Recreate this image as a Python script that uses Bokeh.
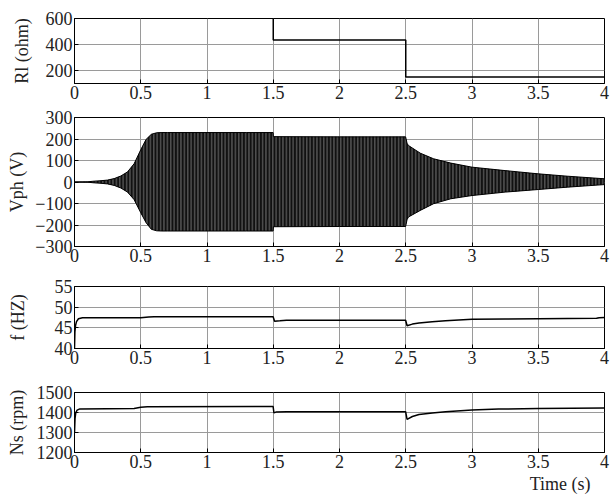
from bokeh.plotting import figure
from bokeh.layouts import column
from bokeh.models import FixedTicker, Range1d, Title
from bokeh.embed import file_html
from bokeh.resources import INLINE

# ---------------- data ----------------
x_ticks = [0, 0.5, 1, 1.5, 2, 2.5, 3, 3.5, 4]
x_tick_labels = ["0", "0.5", "1", "1.5", "2", "2.5", "3", "3.5", "4"]

# Load resistance (ohm); before 1.5 s the load is off-scale (open circuit)
rl_t = [0.0, 1.5, 2.5, 4.0]
rl_v = [2000, 434, 150, 150]
rl_ticks = [200, 400, 600]
rl_tick_labels = ["200", "400", "600"]

# Phase voltage envelope (V)
vph_t = [0.0, 0.10, 0.15, 0.20, 0.25, 0.30, 0.35, 0.40, 0.45, 0.50, 0.54, 0.58,
         0.62, 0.66, 0.70, 1.00, 1.30, 1.499, 1.501, 2.00, 2.499, 2.51, 2.52,
         2.61, 2.71, 2.84, 3.00, 3.25, 3.50, 3.72, 4.00]
vph_upper = [0, 1, 4, 6, 9, 16, 28, 47, 85, 150, 198, 222,
             229, 230, 230, 230, 230, 230, 211, 210, 210, 180, 170,
             134, 108, 88, 69, 53, 38, 27, 15]
vph_lower = [0, -1, -4, -6, -9, -16, -28, -47, -82, -143, -189, -220,
             -227, -228, -228, -228, -228, -228, -208, -207, -207, -175, -163,
             -132, -101, -78, -63, -47, -35, -24, -12]
vph_ticks = [-300, -200, -100, 0, 100, 200, 300]
vph_tick_labels = ["\u2212300", "\u2212200", "\u2212100", "0", "100", "200", "300"]

# Frequency (Hz)
f_t = [0.0, 0.003, 0.008, 0.015, 0.03, 0.06, 0.50, 0.56, 0.60, 1.499, 1.51,
       1.55, 1.60, 2.499, 2.51, 2.55, 2.60, 2.70, 2.80, 3.00, 3.25, 3.50,
       3.94, 3.96, 4.00]
f_v = [40.0, 44.0, 45.6, 46.5, 47.2, 47.45, 47.45, 47.65, 47.7, 47.7, 46.6,
       46.7, 46.85, 46.85, 45.5, 45.9, 46.15, 46.5, 46.7, 47.05, 47.15, 47.2,
       47.3, 47.45, 47.5]
f_ticks = [40, 45, 50, 55]
f_tick_labels = ["40", "45", "50", "55"]

# Speed (rpm)
ns_t = [0.0, 0.004, 0.01, 0.02, 0.04, 0.45, 0.50, 0.55, 1.499, 1.505, 1.52,
        1.60, 2.499, 2.51, 2.55, 2.60, 2.70, 2.80, 3.00, 3.20, 3.50, 4.00]
ns_v = [1300, 1370, 1400, 1412, 1418, 1420, 1426, 1429, 1430, 1398, 1402,
        1404, 1404, 1366, 1380, 1390, 1398, 1404, 1412, 1417, 1420, 1422]
ns_ticks = [1200, 1300, 1400, 1500]
ns_tick_labels = ["1200", "1300", "1400", "1500"]

FONT = "Liberation Serif"
TICK_SIZE = "18px"
LABEL_SIZE = "18px"


def make_fig(height, top, bottom, y_rng, y_ticks, y_labels, ylabel, standoff):
    p = figure(width=610, height=height, x_range=Range1d(0, 4),
               y_range=Range1d(*y_rng), output_backend="svg",
               toolbar_location=None, tools="",
               min_border_left=74, min_border_right=6,
               min_border_top=top, min_border_bottom=bottom)
    p.background_fill_color = "white"
    p.border_fill_color = "white"
    p.outline_line_color = "black"
    p.outline_line_width = 1

    p.xaxis.ticker = FixedTicker(ticks=x_ticks)
    p.xaxis.major_label_overrides = dict(zip(x_ticks, x_tick_labels))
    p.yaxis.ticker = FixedTicker(ticks=y_ticks)
    p.yaxis.major_label_overrides = dict(zip(y_ticks, y_labels))
    p.yaxis.axis_label = ylabel
    p.yaxis.axis_label_standoff = standoff
    p.yaxis.axis_label_text_font = FONT
    p.yaxis.axis_label_text_font_size = LABEL_SIZE
    p.yaxis.axis_label_text_font_style = "normal"
    p.yaxis.axis_label_text_color = "#222222"

    for ax in (p.xaxis[0], p.yaxis[0]):
        ax.axis_line_color = "black"
        ax.axis_line_width = 1
        ax.major_tick_line_color = "black"
        ax.major_tick_in = 4
        ax.major_tick_out = 0
        ax.minor_tick_line_color = None
        ax.major_label_text_font = FONT
        ax.major_label_text_font_size = TICK_SIZE
        ax.major_label_text_color = "#222222"
        ax.major_label_standoff = 2

    p.xgrid.grid_line_color = "#9a9a9a"
    p.ygrid.grid_line_color = "#9a9a9a"
    p.xgrid.grid_line_width = 1
    p.ygrid.grid_line_width = 1
    return p


# Panel 1: Rl
p1 = make_fig(109, 18, 26, (100, 600), rl_ticks, rl_tick_labels, "Rl (ohm)", 11)
p1.step(rl_t, rl_v, mode="after", line_color="black", line_width=1.5)

# Panel 2: Vph
p2 = make_fig(167, 8, 30, (-300, 300), vph_ticks, vph_tick_labels, "Vph (V)", 5)
p2.varea(x=vph_t, y1=vph_lower, y2=vph_upper, fill_color="#505050",
         hatch_pattern="vertical_line", hatch_color="#111111",
         hatch_weight=2.4, hatch_scale=3.4)
p2.line(vph_t, vph_upper, line_color="black", line_width=1)
p2.line(vph_t, vph_lower, line_color="black", line_width=1)

# Panel 3: f
p3 = make_fig(105, 10, 33, (40, 55), f_ticks, f_tick_labels, "f (HZ)", 24)
p3.line(f_t, f_v, line_color="black", line_width=1.5)

# Panel 4: Ns
p4 = make_fig(123, 11, 52, (1200, 1500), ns_ticks, ns_tick_labels, "Ns (rpm)", 7)
p4.line(ns_t, ns_v, line_color="black", line_width=1.5)
p4.add_layout(Title(text="Time (s)", align="right", offset=14,
                    text_font=FONT, text_font_size=LABEL_SIZE,
                    text_font_style="normal", text_color="#222222",
                    standoff=2), "below")

layout = column(p1, p2, p3, p4)
open("out.html", "w").write(file_html(layout, INLINE))
